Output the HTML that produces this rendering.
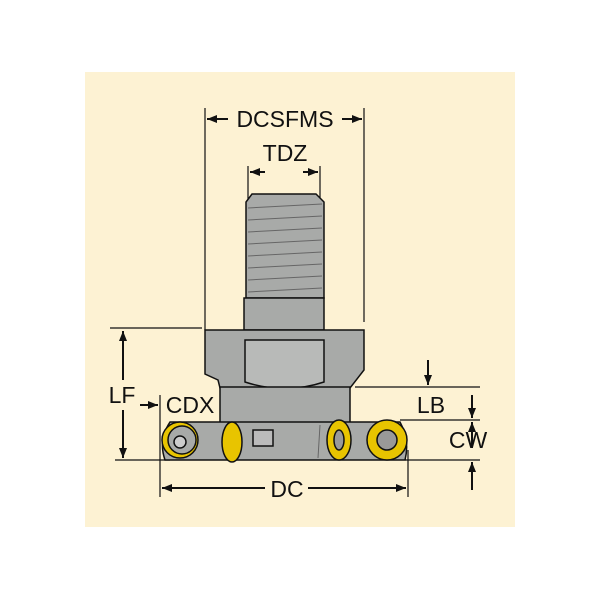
<!DOCTYPE html>
<html><head><style>body{margin:0;background:#fff}svg{display:block}</style></head><body>
<svg width="600" height="600" viewBox="0 0 600 600" font-family="Liberation Sans, sans-serif">
<rect x="0" y="0" width="600" height="600" fill="#fff"/>
<rect x="85" y="72" width="430" height="455" fill="#fdf2d3"/>
<defs><marker id="a" markerWidth="10" markerHeight="8" refX="10" refY="4" orient="auto" markerUnits="userSpaceOnUse"><path d="M0,0 L10,4 L0,8 Z" fill="#111"/></marker></defs>
<g stroke="#111" stroke-width="1.2" fill="none">
<line x1="205" y1="108" x2="205" y2="330"/><line x1="364" y1="108" x2="364" y2="322"/>
<line x1="248" y1="166" x2="248" y2="200"/><line x1="320" y1="166" x2="320" y2="200"/>
<line x1="110" y1="328" x2="202" y2="328"/><line x1="115" y1="460" x2="170" y2="460"/>
<line x1="160" y1="395" x2="160" y2="497"/><line x1="408" y1="450" x2="408" y2="497"/>
<line x1="355" y1="387" x2="480" y2="387"/><line x1="400" y1="420" x2="480" y2="420"/><line x1="405" y1="460" x2="480" y2="460"/>
</g>
<g stroke="#111" stroke-width="2" fill="none" marker-end="url(#a)">
<line x1="228" y1="119" x2="207" y2="119"/><line x1="342" y1="119" x2="362" y2="119"/>
<line x1="265" y1="172" x2="250" y2="172"/><line x1="303" y1="172" x2="318" y2="172"/>
<line x1="123" y1="380" x2="123" y2="331"/><line x1="123" y1="410" x2="123" y2="458"/>
<line x1="140" y1="405" x2="158" y2="405"/><line x1="245" y1="405" x2="222" y2="405"/>
<line x1="428" y1="360" x2="428" y2="385"/><line x1="472" y1="395" x2="472" y2="418"/>
<line x1="472" y1="448" x2="472" y2="422"/><line x1="472" y1="490" x2="472" y2="462"/>
<line x1="265" y1="488" x2="162" y2="488"/><line x1="308" y1="488" x2="406" y2="488"/>
</g>
<g stroke="#111" stroke-width="1.5" fill="#a8aaa8">
<path d="M252,194 L316,194 L324,202 L324,298 L246,298 L246,202 Z"/>
<rect x="244" y="298" width="80" height="32"/>
<path d="M205,330 L364,330 L364,370 L350,388 L220,388 L218,380 L205,374 Z"/>
<path d="M245,340 L324,340 L324,382 Q285,395 245,382 Z" fill="#b8bab8"/>
<rect x="220" y="387" width="130" height="36"/>
<path d="M170,422 L400,422 Q410,440 405,460 L165,460 Q158,440 170,422 Z"/>
</g>
<g stroke="#666" stroke-width="1">
<line x1="248" y1="208" x2="322" y2="204"/><line x1="248" y1="220" x2="322" y2="216"/><line x1="248" y1="232" x2="322" y2="228"/><line x1="248" y1="244" x2="322" y2="240"/><line x1="248" y1="256" x2="322" y2="252"/><line x1="248" y1="268" x2="322" y2="264"/><line x1="248" y1="280" x2="322" y2="276"/><line x1="248" y1="292" x2="322" y2="288"/>
<line x1="320" y1="425" x2="318" y2="458"/>
</g>
<g stroke="#111" stroke-width="1.5">
<circle cx="180" cy="440" r="18" fill="#e8c400"/><circle cx="182" cy="440" r="14" fill="#a8aaa8"/><circle cx="180" cy="442" r="6" fill="#ccc"/>
<ellipse cx="232" cy="442" rx="10" ry="20" fill="#e8c400"/>
<rect x="253" y="430" width="20" height="16" fill="#bbb"/>
<ellipse cx="339" cy="440" rx="12" ry="20" fill="#e8c400"/><ellipse cx="339" cy="440" rx="5" ry="10" fill="#999"/>
<circle cx="387" cy="440" r="20" fill="#e8c400"/><circle cx="387" cy="440" r="10" fill="#999"/>
</g>
<g fill="#111" font-size="23" text-anchor="middle">
<text x="285" y="127">DCSFMS</text><text x="285" y="161">TDZ</text>
<text x="122" y="403">LF</text><text x="190" y="413">CDX</text>
<text x="431" y="413">LB</text><text x="468" y="448">CW</text><text x="287" y="497">DC</text>
</g>
</svg>
</body></html>
